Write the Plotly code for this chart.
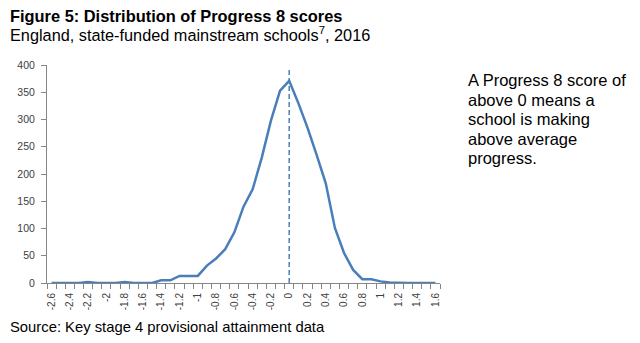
import plotly.graph_objects as go

scores = [round(-2.6 + 0.1 * i, 1) for i in range(43)]
counts = [0, 0, 0, 0, 2, 0, 0, 0, 2, 0, 0, 0, 5, 5, 13, 13, 13, 32, 45, 62,
          93, 140, 172, 230, 298, 353, 371, 330, 285, 235, 183, 101, 55, 24, 7, 7,
          3, 1, 0, 0, 0, 0, 0]
tick_vals = [round(-2.6 + 0.2 * i, 1) for i in range(22)]
tick_text = [("%g" % v) for v in tick_vals]
note_lines = ["A Progress 8 score of", "above 0 means a", "school is making",
              "above average", "progress."]

W, H = 640, 343
L, R, T, B = 47, 200, 65, 60
PW, PH = W - L - R, H - T - B

def px(x):
    return (x - L) / PW

def py(y):
    return (H - B - y) / PH

blue = "#4A7EBB"
fig = go.Figure()
fig.add_trace(go.Scatter(x=scores, y=counts, mode="lines",
                         line=dict(color=blue, width=2.5), showlegend=False,
                         hoverinfo="skip"))
fig.add_shape(type="line", x0=0, x1=0, y0=0, y1=392, xref="x", yref="y",
              line=dict(color=blue, width=1.5, dash="5px,3px"))

font = "Liberation Sans, Arial, sans-serif"
anns = [
    dict(text="<b>Figure 5: Distribution of Progress 8 scores</b>",
         x=px(8), y=py(16), xref="paper", yref="paper",
         xanchor="left", yanchor="middle", showarrow=False,
         font=dict(size=16.4, family=font)),
    dict(text="England, state-funded mainstream schools<sup>7</sup>, 2016",
         x=px(8), y=py(34), xref="paper", yref="paper",
         xanchor="left", yanchor="middle", showarrow=False,
         font=dict(size=16.3, family=font)),
    dict(text="Source: Key stage 4 provisional attainment data",
         x=px(8), y=py(327), xref="paper", yref="paper",
         xanchor="left", yanchor="middle", showarrow=False,
         font=dict(size=14.8, family=font)),
]
for i, line in enumerate(note_lines):
    anns.append(dict(text=line, x=px(466), y=py(80 + 19.6 * i),
                     xref="paper", yref="paper", xanchor="left",
                     yanchor="middle", showarrow=False,
                     font=dict(size=16.5, family=font)))

fig.update_layout(
    width=W, height=H, margin=dict(l=L, r=R, t=T, b=B),
    paper_bgcolor="white", plot_bgcolor="white",
    font=dict(family=font, color="#000000"),
    xaxis=dict(range=[-2.65, 1.65], tickmode="array", tickvals=tick_vals,
               ticktext=tick_text, tickangle=-90, ticklen=0,
               tickfont=dict(size=10, color="#404040"),
               ticklabelstandoff=5,
               showgrid=False, zeroline=False, showline=True,
               linecolor="#868686", linewidth=1,
               minor=dict(tick0=-2.65, dtick=0.1, ticklen=5, ticks="outside",
                          tickcolor="#868686", showgrid=False),
               ticks="outside", tickcolor="#868686"),
    yaxis=dict(range=[0, 400], dtick=50, ticks="outside", ticklen=5,
               tickcolor="#868686", tickfont=dict(size=10.5, color="#404040"),
               ticklabelstandoff=4,
               showgrid=False, zeroline=False, showline=True,
               linecolor="#868686", linewidth=1),
    annotations=anns,
)
fig.write_html("out.html")
